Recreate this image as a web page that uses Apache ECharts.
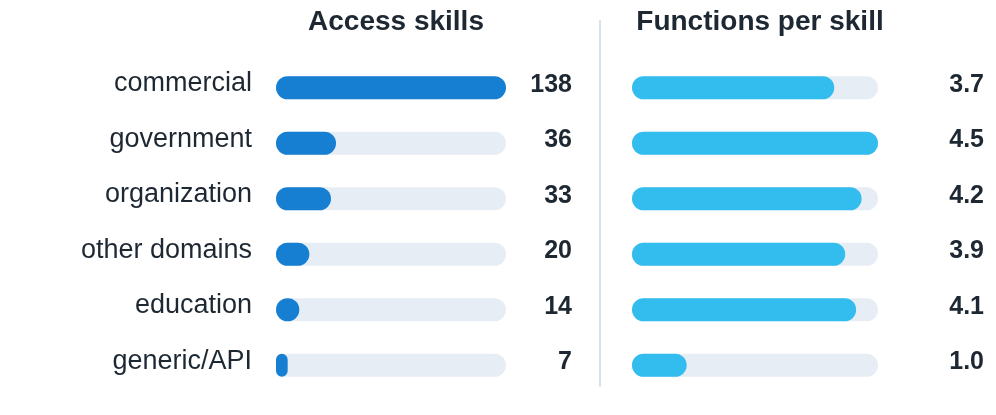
<!DOCTYPE html>
<html>
<head>
<meta charset="utf-8">
<script src="https://cdn.jsdelivr.net/npm/echarts@6/dist/echarts.min.js"></script>
<style>
  html, body { margin: 0; padding: 0; background: #fff; }
  #chart { width: 996px; height: 415px; }
</style>
</head>
<body>
<div id="chart"></div>
<script>
var categories = ['commercial', 'government', 'organization', 'other domains', 'education', 'generic/API']
var accessSkills = [138, 36, 33, 20, 14, 7]
var functionsPerSkill = [3.7, 4.5, 4.2, 3.9, 4.1, 1.0]
var accessMax = 138
var functionsMax = 4.5

var textColor = '#1e2833'
var font = 'Liberation Sans, Arial, sans-serif'

var chart = echarts.init(document.getElementById('chart'))

// labels sit a little above the bar centre: bottom-aligned with a short lineHeight
function catAxis(gridIndex, showNames) {
  return {
    type: 'category',
    gridIndex: gridIndex,
    data: categories,
    inverse: true,
    axisLine: { show: false },
    axisTick: { show: false },
    axisLabel: {
      show: showNames,
      margin: 24,
      fontSize: 27,
      color: textColor,
      fontFamily: font,
      verticalAlign: 'bottom',
      lineHeight: 8
    }
  }
}

function valueAxis(gridIndex, labels, margin) {
  return {
    type: 'category',
    gridIndex: gridIndex,
    position: 'right',
    data: labels,
    inverse: true,
    axisLine: { show: false },
    axisTick: { show: false },
    axisLabel: {
      margin: margin,
      align: 'right',
      fontSize: 25,
      fontWeight: 'bold',
      color: textColor,
      fontFamily: font,
      verticalAlign: 'bottom',
      lineHeight: 6
    }
  }
}

function barSeries(xi, yi, data, color) {
  return {
    type: 'bar',
    xAxisIndex: xi,
    yAxisIndex: yi,
    data: data,
    barWidth: 23,
    showBackground: true,
    backgroundStyle: { color: '#e7edf5', borderRadius: 12 },
    itemStyle: { color: color, borderRadius: 12 },
    silent: true
  }
}

chart.setOption({
  animation: false,
  title: [
    {
      text: 'Access skills', left: 391, top: 3, textAlign: 'center',
      textStyle: { fontSize: 28, fontWeight: 'bold', color: textColor, fontFamily: font }
    },
    {
      text: 'Functions per skill', left: 755, top: 3, textAlign: 'center',
      textStyle: { fontSize: 28, fontWeight: 'bold', color: textColor, fontFamily: font }
    }
  ],
  grid: [
    { left: 276, width: 230, top: 60, height: 333 },
    { left: 632, width: 246, top: 60, height: 333 }
  ],
  xAxis: [
    { type: 'value', gridIndex: 0, min: 0, max: accessMax, show: false },
    { type: 'value', gridIndex: 1, min: 0, max: functionsMax, show: false }
  ],
  yAxis: [
    catAxis(0, true),
    valueAxis(0, accessSkills.map(function (v) { return String(v) }), 66),
    catAxis(1, false),
    valueAxis(1, functionsPerSkill.map(function (v) { return v.toFixed(1) }), 106)
  ],
  graphic: [{
    type: 'line',
    shape: { x1: 600, y1: 20, x2: 600, y2: 387 },
    style: { stroke: '#d9e2ec', lineWidth: 2 }
  }],
  series: [
    barSeries(0, 0, accessSkills, '#167fd2'),
    barSeries(1, 2, functionsPerSkill, '#33bcee')
  ]
})
</script>
</body>
</html>
